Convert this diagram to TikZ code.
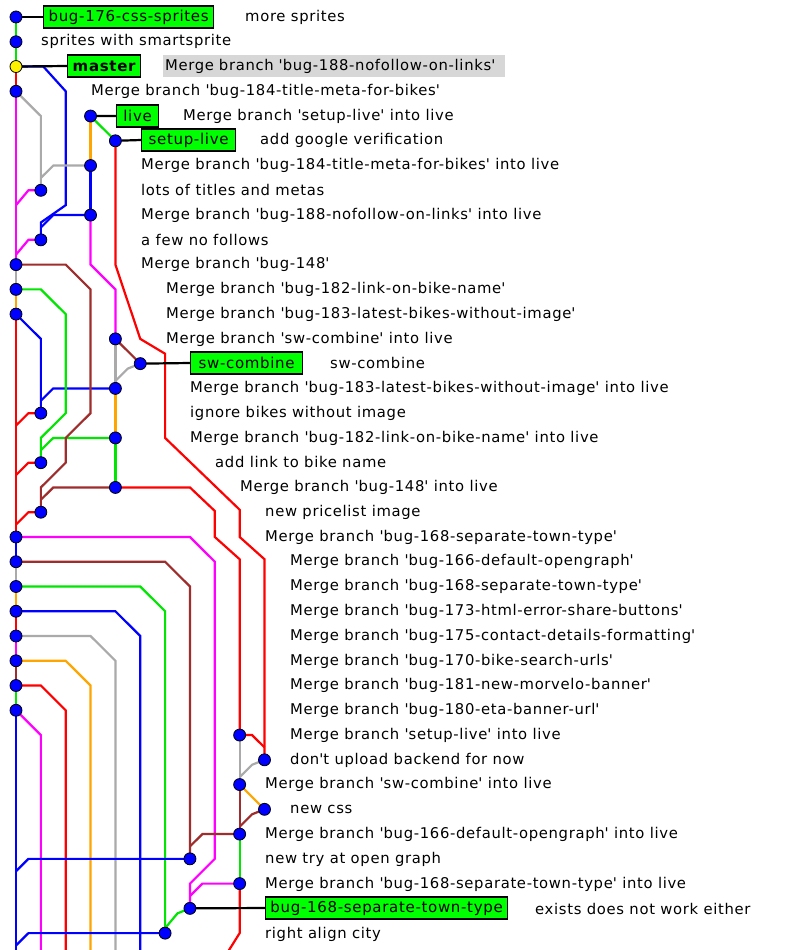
\documentclass[tikz,border=0pt]{standalone}
\usepackage{fontspec}
\setmainfont[LetterSpace=4.5]{DejaVu Sans}
\begin{document}
\newcommand\px[2]{({(#1-16)/24.85},{(#2-17)/24.76})}
\newcommand\q{\textquotesingle}
\begin{tikzpicture}[x=24.85pt,y=-24.76pt,
  ln/.style={line width=2.2pt},
  dot/.style={circle,draw=black,line width=0.8pt,fill=blue,minimum size=12pt,inner sep=0pt},
  lab/.style={draw=black,line width=1.2pt,fill=green,minimum height=22pt,inner sep=1pt,anchor=west,font=\fontsize{15}{16}\selectfont},
  msg/.style={anchor=west,inner sep=0pt,font=\fontsize{14.8}{16}\selectfont},
  G/.style={ln,draw={rgb,255:red,0;green,230;blue,0}},
  R/.style={ln,draw=red},
  B/.style={ln,draw=blue},
  M/.style={ln,draw={rgb,255:red,255;green,0;blue,255}},
  Br/.style={ln,draw={rgb,255:red,160;green,45;blue,45}},
  Gy/.style={ln,draw={rgb,255:red,170;green,170;blue,170}},
  O/.style={ln,draw={rgb,255:red,255;green,165;blue,0}},
  K/.style={ln,draw=black}]
\useasboundingbox[fill=white] \px{0}{0} rectangle \px{800}{950};
% commit positions
\foreach \n/\c/\r in {0/0/0,1/0/1,2/0/2,3/0/3,4/3/4,5/4/5,6/3/6,7/1/7,8/3/8,9/1/9,10/0/10,11/0/11,12/0/12,13/4/13,14/5/14,15/4/15,16/1/16,17/4/17,18/1/18,19/4/19,20/1/20,21/0/21,22/0/22,23/0/23,24/0/24,25/0/25,26/0/26,27/0/27,28/0/28,29/9/29,30/10/30,31/9/31,32/10/32,33/9/33,34/7/34,35/9/35,36/7/36,37/6/37}
  \coordinate (n\n) at (\c,\r);
% top part
\draw[G] (n0)--(n1)--(n2);
\draw[R] (n2)--(n3);
\draw[B] (n2)--(1.1,2)--(2,3)--(2,7.6)--(1,8.3)--(n9);
\draw[B] (n8)--(1.5,8)--(1,8.5);
\draw[Gy] (n3)--(1,4)--(n7);
\draw[Gy] (n6)--(1.5,6)--(1,6.5);
\draw[M] (n3)--(n10);
\draw[M] (n7)--(0.5,7)--(0,7.6);
\draw[M] (n9)--(0.5,9)--(0,9.6);
\draw[O] (n4)--(n6);
\draw[B] (n6)--(n8);
\draw[M] (n8)--(3,10)--(4,11)--(n13);
\draw[G] (n4)--(n5);
\draw[R] (n5)--(4,10)--(5,13)--(6,13.6)--(6,17)--(9,19.9)--(9,21)--(10,21.9)--(n30);
\draw[R] (n19)--(7,19)--(8,19.95)--(8,21)--(9,21.9)--(n29);
\draw[R] (n29)--(9.5,29)--(10,29.5);
\draw[Br] (n13)--(n14);
\draw[Gy] (n13)--(n15);
\draw[Gy] (n14)--(4.5,14.2)--(4,14.7);
\draw[O] (n15)--(n17);
\draw[G] (n17)--(n19);
\draw[B] (n15)--(1.5,15)--(1,15.5);
\draw[B] (n12)--(1,13)--(n16);
\draw[R] (n16)--(0.5,16)--(0,16.5);
\draw[R] (n18)--(0.5,18)--(0,18.5);
\draw[R] (n20)--(0.5,20)--(0,20.5);
\draw[G] (n17)--(1.5,17)--(1,17.5);
\draw[G] (n11)--(1,11)--(2,12)--(2,16)--(1,17)--(n18);
\draw[Br] (n10)--(2,10)--(3,11)--(3,16)--(2,17)--(2,18)--(1,19)--(n20);
\draw[Br] (n19)--(1.5,19)--(1,19.5);
% column 0
\draw[Gy] (n10)--(n11);
\draw[O] (n11)--(n12);
\draw[R] (n12)--(n21);
\draw[B] (n21)--(n22);
\draw[Gy] (n22)--(n23);
\draw[O] (n23)--(n24);
\draw[R] (n24)--(n25);
\draw[M] (n25)--(n26);
\draw[Br] (n26)--(n27);
\draw[G] (n27)--(n28);
\draw[B] (n28)--(0,37.8);
% branches
\draw[M] (n21)--(7,21)--(8,22)--(8,34)--(7,35)--(n36);
\draw[M] (n35)--(7.5,35)--(7,35.5);
\draw[Br] (n22)--(6,22)--(7,23)--(n34);
\draw[Br] (n33)--(7.5,33)--(7,33.5);
\draw[G] (n23)--(5,23)--(6,24)--(n37);
\draw[G] (n36)--(6.5,36.2)--(6,36.8);
\draw[B] (n24)--(4,24)--(5,25)--(5,37.8);
\draw[Gy] (n25)--(3,25)--(4,26)--(4,37.8);
\draw[O] (n26)--(2,26)--(3,27)--(3,37.8);
\draw[R] (n27)--(1,27)--(2,28)--(2,37.8);
\draw[M] (n28)--(1,29)--(1,37.8);
\draw[B] (n34)--(0.5,34)--(0,34.5);
\draw[B] (n37)--(0.5,37)--(0,37.5);
\draw[Gy] (n29)--(n31);
\draw[Gy] (n30)--(9.5,30.2)--(9,30.7);
\draw[O] (n31)--(n32);
\draw[Br] (n31)--(n33);
\draw[Br] (n32)--(9.5,32.2)--(9,32.7);
\draw[G] (n33)--(n35);
\draw[R] (n35)--(9,37)--(8.5,37.8);
% labels
\node[lab,minimum width=170pt] (l0) at \px{43}{17} {bug-176-css-sprites};
\node[lab,minimum width=73pt,font=\fontsize{15}{16}\selectfont\bfseries] (l2) at \px{67}{66} {master};
\node[lab,minimum width=42pt] (l4) at \px{116}{116} {live};
\node[lab,minimum width=94pt] (l5) at \px{141}{140} {setup-live};
\node[lab,minimum width=112pt] (l14) at \px{190}{363} {sw-combine};
\node[lab,minimum width=242pt] (l36) at \px{265}{908} {bug-168-separate-town-type};
\draw[K] (n0)--(l0.west);
\draw[K] (n2)--(l2.west);
\draw[K] (n4)--(l4.west);
\draw[K] (n5)--(l5.west);
\draw[K] (n14)--(l14.west);
\draw[K] (n36)--(l36.west);
% dots
\foreach \n in {0,1,3,4,5,6,7,8,9,10,11,12,13,14,15,16,17,18,19,20,21,22,23,24,25,26,27,28,29,30,31,32,33,34,35,36,37}
  \node[dot] (d\n) at (n\n) {};
\node[dot,fill=yellow] (d2) at (n2) {};
% messages
\node[msg] (m0) at \px{245}{17} {more sprites};
\node[msg] (m1) at \px{41}{41} {sprites with smartsprite};
\node[msg,fill={rgb,255:red,215;green,215;blue,215},text width=338pt,minimum height=22pt,inner xsep=2pt,align=left] (m2) at \px{163}{66} {Merge branch \q bug-188-nofollow-on-links\q};
\node[msg] (m3) at \px{91}{91} {Merge branch \q bug-184-title-meta-for-bikes\q};
\node[msg] (m4) at \px{183}{116} {Merge branch \q setup-live\q{} into live};
\node[msg] (m5) at \px{260}{140} {add google verification};
\node[msg] (m6) at \px{141}{165} {Merge branch \q bug-184-title-meta-for-bikes\q{} into live};
\node[msg] (m7) at \px{141}{190} {lots of titles and metas};
\node[msg] (m8) at \px{141}{215} {Merge branch \q bug-188-nofollow-on-links\q{} into live};
\node[msg] (m9) at \px{141}{240} {a few no follows};
\node[msg] (m10) at \px{141}{264} {Merge branch \q bug-148\q};
\node[msg] (m11) at \px{166}{289} {Merge branch \q bug-182-link-on-bike-name\q};
\node[msg] (m12) at \px{166}{314} {Merge branch \q bug-183-latest-bikes-without-image\q};
\node[msg] (m13) at \px{166}{339} {Merge branch \q sw-combine\q{} into live};
\node[msg] (m14) at \px{330}{363} {sw-combine};
\node[msg] (m15) at \px{190}{388} {Merge branch \q bug-183-latest-bikes-without-image\q{} into live};
\node[msg] (m16) at \px{190}{413} {ignore bikes without image};
\node[msg] (m17) at \px{190}{438} {Merge branch \q bug-182-link-on-bike-name\q{} into live};
\node[msg] (m18) at \px{215}{462} {add link to bike name};
\node[msg] (m19) at \px{240}{487} {Merge branch \q bug-148\q{} into live};
\node[msg] (m20) at \px{265}{512} {new pricelist image};
\node[msg] (m21) at \px{265}{537} {Merge branch \q bug-168-separate-town-type\q};
\node[msg] (m22) at \px{290}{561} {Merge branch \q bug-166-default-opengraph\q};
\node[msg] (m23) at \px{290}{586} {Merge branch \q bug-168-separate-town-type\q};
\node[msg] (m24) at \px{290}{611} {Merge branch \q bug-173-html-error-share-buttons\q};
\node[msg] (m25) at \px{290}{636} {Merge branch \q bug-175-contact-details-formatting\q};
\node[msg] (m26) at \px{290}{661} {Merge branch \q bug-170-bike-search-urls\q};
\node[msg] (m27) at \px{290}{685} {Merge branch \q bug-181-new-morvelo-banner\q};
\node[msg] (m28) at \px{290}{710} {Merge branch \q bug-180-eta-banner-url\q};
\node[msg] (m29) at \px{290}{735} {Merge branch \q setup-live\q{} into live};
\node[msg] (m30) at \px{290}{760} {don\q t upload backend for now};
\node[msg] (m31) at \px{265}{784} {Merge branch \q sw-combine\q{} into live};
\node[msg] (m32) at \px{290}{809} {new css};
\node[msg] (m33) at \px{265}{834} {Merge branch \q bug-166-default-opengraph\q{} into live};
\node[msg] (m34) at \px{265}{859} {new try at open graph};
\node[msg] (m35) at \px{265}{884} {Merge branch \q bug-168-separate-town-type\q{} into live};
\node[msg] (m36) at \px{535}{909} {exists does not work either};
\node[msg] (m37) at \px{265}{934} {right align city};
\end{tikzpicture}
\end{document}
